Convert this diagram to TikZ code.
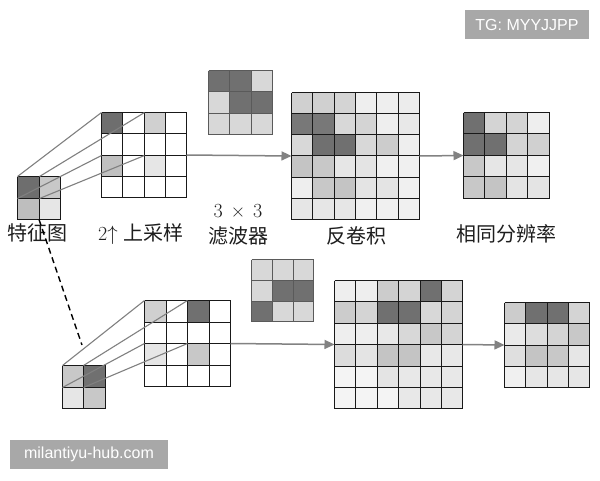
\documentclass[tikz,border=0pt]{standalone}
\usepackage{fontspec}
\usetikzlibrary{arrows.meta}
\newfontfamily\cjk{Noto Sans CJK SC}
\newfontfamily\lmr{Latin Modern Roman}
\newfontfamily\wmfont{Liberation Sans}
\definecolor{linkgray}{RGB}{128,128,128}
\definecolor{arrgray}{RGB}{130,130,130}
\definecolor{griddark}{RGB}{25,25,25}
\definecolor{kerngray}{RGB}{90,90,90}
\definecolor{wmgray}{RGB}{168,168,168}
\definecolor{txt}{RGB}{30,30,30}
\tikzset{
  gridline/.style={draw=griddark,line width=1.6pt},
  kernline/.style={draw=kerngray,line width=1.6pt},
  gridbox/.style={draw=none,inner sep=0pt,outer sep=0pt},
  link/.style={draw=linkgray,line width=1.1pt},
  arr/.style={draw=arrgray,line width=1.5pt,-{Triangle[length=10pt,width=9pt]}},
  dashlink/.style={draw=black,line width=1.4pt,dash pattern=on 6pt off 4pt},
  lab/.style={inner sep=0pt,text=txt,font=\cjk\fontsize{20}{24}\selectfont},
  wm/.style={fill=wmgray,text=white,inner sep=0pt,font=\wmfont\fontsize{16}{19}\selectfont}
}
% grid with line positions snapped to pixel centres
\newcommand\pixgrid[7][gridline]{%
  \foreach \v [count=\k from 0] in {#7} {
    \pgfmathtruncatemacro\rr{floor(\k/#5)}
    \pgfmathtruncatemacro\cc{\k-\rr*#5}
    \pgfmathsetmacro\xa{round(#3+\cc*#6)+0.5}
    \pgfmathsetmacro\xb{round(#3+(\cc+1)*#6)+0.5}
    \pgfmathsetmacro\ya{round(#4+\rr*#6)+0.5}
    \pgfmathsetmacro\yb{round(#4+(\rr+1)*#6)+0.5}
    \fill[fill={rgb,255:red,\v;green,\v;blue,\v}] (\xa,\ya) rectangle (\xb,\yb);
  }
  \pgfmathsetmacro\xs{round(#3)+0.5}
  \pgfmathsetmacro\ys{round(#4)+0.5}
  \pgfmathsetmacro\xe{round(#3+#5*#6)+0.5}
  \pgfmathsetmacro\ye{round(#4+#5*#6)+0.5}
  \foreach \i in {0,...,#5} {
    \pgfmathsetmacro\pp{round(#3+\i*#6)+0.5}
    \pgfmathsetmacro\qq{round(#4+\i*#6)+0.5}
    \draw[#1] (\pp,\ys) -- (\pp,\ye);
    \draw[#1] (\xs,\qq) -- (\xe,\qq);
  }
  \foreach \i in {0,...,#5} {
    \foreach \j in {0,...,#5} {
      \pgfmathsetmacro\pp{round(#3+\j*#6)+0.5}
      \pgfmathsetmacro\qq{round(#4+\i*#6)+0.5}
      \coordinate (#2-\i-\j) at (\pp,\qq);
    }
  }
  \node[gridbox,minimum width={\xe-\xs},minimum height={\ye-\ys},anchor=north west] (#2) at (\xs,\ys) {};
}
\begin{document}
\begin{tikzpicture}[x=1pt,y=-1pt]
\useasboundingbox[fill=white] (0,0) rectangle (600,480);

% ---------- top row ----------
\pixgrid{fmA}{17}{176}{2}{21.5}{110,200,190,230}
\pixgrid{upA}{101}{112}{4}{21.3}{110,255,208,255, 255,255,255,255, 192,255,230,255, 255,255,255,255}
\pixgrid[kernline]{kA}{208}{70}{3}{21.3}{112,112,216, 216,112,112, 216,216,216}
\pixgrid{decA}{291}{91.5}{6}{21.3}{208,208,212,238,238,236, 120,120,216,212,238,232, 216,112,112,216,204,238, 196,200,230,228,240,240, 238,200,196,228,228,240, 230,230,230,240,240,240}
\pixgrid{outA}{463}{112}{4}{21.4}{112,212,212,238, 112,112,212,208, 200,230,230,240, 200,196,228,228}

\draw[link] (fmA-0-0) -- (upA-0-0);
\draw[link] (fmA-0-1) -- (upA-0-2);
\draw[link] (fmA-1-0) -- (upA-2-0);
\draw[link] (fmA-1-1) -- (upA-2-2);
\draw[arr] (upA.east) -- (decA.west);
\draw[arr] (decA.east) -- (outA.west);

\node[lab] (tA) at (38,233) {特征图};
\node[lab] (tB) at (141,234) {{\lmr 2}$\uparrow$\hspace{6pt}上采样};
\node[lab,font=\lmr\fontsize{20}{24}\selectfont] (tC) at (238,211) {3\hspace{8pt}×\hspace{8pt}3};
\node[lab] (tD) at (238,236) {滤波器};
\node[lab] (tE) at (356,236) {反卷积};
\node[lab] (tF) at (506,234) {相同分辨率};

% ---------- bottom row ----------
\pixgrid{fmB}{61.5}{365}{2}{21.5}{200,112,230,200}
\pixgrid{upB}{144}{300}{4}{21.5}{208,255,112,255, 255,255,255,255, 230,255,200,255, 255,255,255,255}
\pixgrid[kernline]{kB}{251}{259}{3}{20.8}{216,216,216, 216,112,112, 112,216,216}
\pixgrid{decB}{334}{280}{6}{21.4}{238,238,204,212,112,212, 204,212,112,112,216,212, 238,238,232,216,200,212, 220,228,196,196,232,232, 244,244,228,232,232,232, 244,244,244,232,232,232}
\pixgrid{outB}{504}{302}{4}{21.3}{204,112,112,212, 234,221,212,200, 223,196,200,230, 240,230,230,230}

\draw[link] (fmB-0-0) -- (upB-0-0);
\draw[link] (fmB-0-1) -- (upB-0-2);
\draw[link] (fmB-1-0) -- (upB-2-0);
\draw[link] (fmB-1-1) -- (upB-2-2);
\draw[arr] (upB.east) -- (decB.west);
\draw[arr] (decB.east) -- (outB.west);

\coordinate (dashEnd) at (82,345);
\draw[dashlink] (fmA.south) -- (dashEnd);

% ---------- watermarks ----------
\node[wm,minimum width=124,minimum height=29] (wmA) at (527,24.5) {TG: MYYJJPP};
\node[wm,minimum width=158,minimum height=29] (wmB) at (89,454.5) {milantiyu-hub.com};
\end{tikzpicture}
\end{document}
